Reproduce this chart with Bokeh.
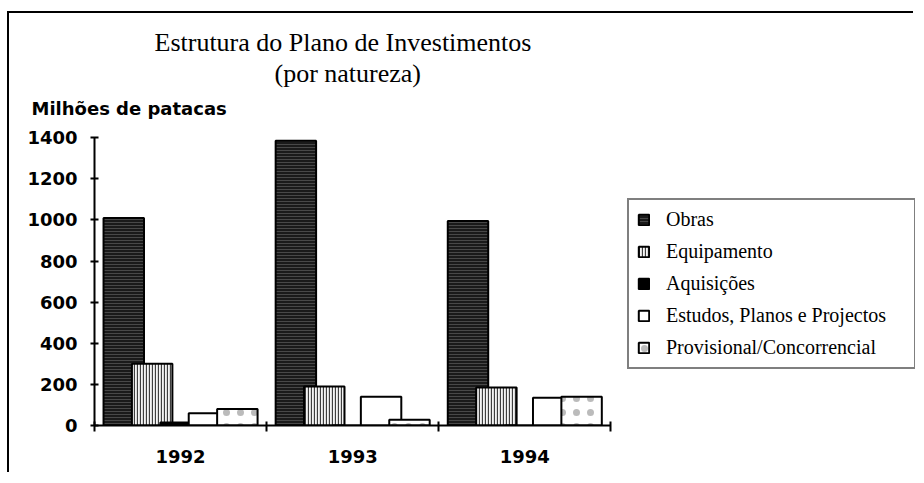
from bokeh.plotting import figure
from bokeh.models import Range1d, FixedTicker, Title
from bokeh.embed import file_html
from bokeh.resources import INLINE

# ---- data ----
years = ["1992", "1993", "1994"]
series = ["Obras", "Equipamento", "Aquisições",
          "Estudos, Planos e Projectos", "Provisional/Concorrencial"]
obras = [1010, 1385, 995]
equipamento = [300, 190, 185]
aquisicoes = [15, 0, 0]
estudos = [60, 140, 135]
provisional = [80, 28, 140]
y_ticks = [0, 200, 400, 600, 800, 1000, 1200, 1400]

values = [obras, equipamento, aquisicoes, estudos, provisional]

styles = [
    dict(fill_color="#1a1a1a", hatch_pattern="horizontal_line", hatch_color="white",
         hatch_alpha=0.25, hatch_scale=3, hatch_weight=0.8),
    dict(fill_color="#f4f4f4", hatch_pattern="vertical_line", hatch_color="#111111",
         hatch_alpha=0.8, hatch_scale=3, hatch_weight=1.3),
    dict(fill_color="black"),
    dict(fill_color="white"),
    dict(fill_color="white", hatch_pattern="dot", hatch_color="#bbbbbb",
         hatch_scale=14, hatch_weight=0.6),
]

p = figure(width=906, height=461,
           x_range=Range1d(0, 4.77), y_range=Range1d(0, 1450),
           output_backend="svg", toolbar_location=None,
           min_border_left=85, min_border_top=114, min_border_bottom=49, min_border_right=0)
p.styles = {"border-left": "2px solid black", "border-top": "2px solid black",
            "margin-top": "11px", "margin-left": "7px"}
p.outline_line_color = None
p.xgrid.visible = False
p.ygrid.visible = False
p.background_fill_color = "white"
p.border_fill_color = "white"

n = len(series)
step = 0.165
bar_w = 0.235
for k, (name, vals, st) in enumerate(zip(series, values, styles)):
    xs = [i + 0.5 + (k - (n - 1) / 2) * step for i in range(len(years))]
    p.vbar(x=xs, top=vals, bottom=0, width=bar_w, line_color="black", line_width=2,
           legend_label=name, **st)

# y axis
ya = p.yaxis[0]
ya.ticker = FixedTicker(ticks=y_ticks)
ya.bounds = (y_ticks[0], y_ticks[-1])
ya.major_label_text_font = "DejaVu Sans"
ya.major_label_text_font_style = "bold"
ya.major_label_text_font_size = "18px"
ya.major_label_text_color = "black"
ya.axis_line_width = 2
ya.axis_line_color = "black"
ya.major_tick_line_width = 2
ya.major_tick_line_color = "black"
ya.major_tick_in = 4
ya.major_tick_out = 4
ya.minor_tick_line_color = None
ya.major_label_standoff = 13

# x axis: labels between the category boundary ticks
centers = [i + 0.5 for i in range(len(years))]
bounds = [float(i) for i in range(len(years) + 1)]
xa = p.xaxis[0]
xa.ticker = FixedTicker(ticks=centers, minor_ticks=bounds)
xa.major_label_overrides = dict(zip(centers, years))
xa.bounds = (0, len(years))
xa.major_label_text_font = "DejaVu Sans"
xa.major_label_text_font_style = "bold"
xa.major_label_text_font_size = "18px"
xa.major_label_text_color = "black"
xa.axis_line_width = 2
xa.axis_line_color = "black"
xa.major_tick_in = 0
xa.major_tick_out = 0
xa.minor_tick_in = 4
xa.minor_tick_out = 6
xa.minor_tick_line_width = 2
xa.minor_tick_line_color = "black"
xa.major_label_standoff = 18

# titles (added nearest-to-frame first)
p.add_layout(Title(text="Milhões de patacas", align="left", offset=-63, standoff=17,
                   text_font="DejaVu Sans", text_font_style="bold",
                   text_font_size="18px", text_color="black"), "above")
p.add_layout(Title(text="(por natureza)", align="left", offset=180, standoff=0,
                   text_font="Liberation Serif", text_font_style="normal",
                   text_font_size="26px", text_color="black"), "above")
p.add_layout(Title(text="Estrutura do Plano de Investimentos", align="left", offset=60,
                   standoff=0, text_font="Liberation Serif", text_font_style="normal",
                   text_font_size="26px", text_color="black"), "above")

# legend
lg = p.legend[0]
lg.location = (533, 56)
lg.margin = 0
lg.padding = 8
lg.spacing = 9
lg.label_height = 22
lg.glyph_height = 13
lg.glyph_width = 13
lg.label_standoff = 16
lg.label_width = 240
lg.label_text_font = "Liberation Serif"
lg.label_text_font_size = "20px"
lg.label_text_color = "black"
lg.border_line_color = "black"
lg.border_line_width = 2
lg.background_fill_color = "white"
lg.background_fill_alpha = 1.0

open("out.html", "w").write(file_html(p, INLINE))
